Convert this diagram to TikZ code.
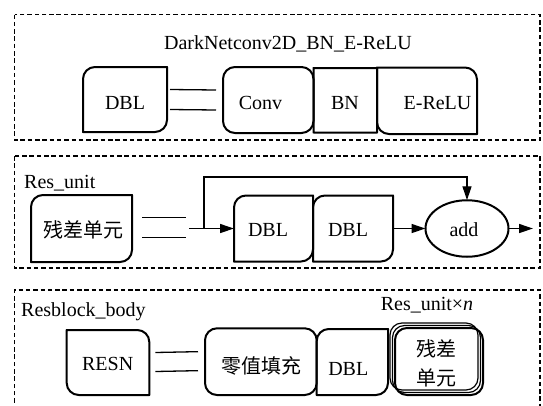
\documentclass[tikz,border=0pt]{standalone}
\usepackage{fontspec}
\setmainfont{Liberation Serif}
\newfontfamily\serifface{Liberation Serif}
\newfontfamily\cjk{Noto Sans CJK SC}
\usetikzlibrary{arrows.meta,shapes.geometric,calc}

% Outline of a named node with an individual radius per corner
% #1 options, #2 node, #3 top-left, #4 top-right, #5 bottom-right, #6 bottom-left
\newcommand\cornerbox[6][]{%
  \draw[outline,#1]
    ($(#2.north west)+(0,#3)$) arc[start angle=180,end angle=270,radius=#3]
    -- ($(#2.north east)+(-#4,0)$) arc[start angle=270,end angle=360,radius=#4]
    -- ($(#2.south east)+(0,-#5)$) arc[start angle=0,end angle=90,radius=#5]
    -- ($(#2.south west)+(#6,0)$) arc[start angle=90,end angle=180,radius=#6]
    -- cycle;}

\tikzset{
  box/.style 2 args={minimum width=#1, minimum height=#2, inner sep=0pt, outer sep=0pt},
  outline/.style={line width=2pt, line join=round},
  lbl/.style={inner sep=0pt, font=\serifface\fontsize{20}{24}\selectfont},
  cjklbl/.style={inner sep=0pt, font=\cjk\fontsize{20}{29}\selectfont, align=center},
  panel/.style={line width=1.9pt, dash pattern=on 4.5pt off 2.8pt},
  link/.style={line width=1.3pt},
  arrow/.style={link, -{Triangle[length=14pt,width=9pt]}},
}

\begin{document}
\begin{tikzpicture}[x=1pt,y=-1pt]
\useasboundingbox (0,0) rectangle (543,405);

% ---------------- DarkNetconv2D_BN_E-ReLU ----------------
\draw[panel] (14.5,14.5) rectangle (540,140);
\node[lbl, anchor=base] (titleA) at (288,49) {DarkNetconv2D\_BN\_E-ReLU};

\node[box={84}{65}]     (dblA)   at (125,99.5) {};
\node[box={90.5}{66}]   (convA)  at (268.25,100) {};
\node[box={63.5}{64.5}] (bnA)    at (345.25,100.25) {};
\node[box={100}{66.5}]  (ereluA) at (427,100.75) {};

\cornerbox{dblA}{12}{0.01}{12}{0.01}
\cornerbox{convA}{12}{12}{12}{12}
\cornerbox{bnA}{0.01}{0.01}{0.01}{0.01}
\cornerbox{ereluA}{0.01}{12}{0.01}{12}

\node[lbl, anchor=base] (dblAt)   at (125,109.5)   {DBL};
\node[lbl, anchor=base] (convAt)  at (260.5,109.5) {Conv};
\node[lbl, anchor=base] (bnAt)    at (345,109.5)   {BN};
\node[lbl, anchor=base] (ereluAt) at (437.5,109.5) {E-ReLU};

\draw[link] ([xshift=3pt,yshift=10pt]dblA.east)  -- ([xshift=-7pt,yshift=10pt]convA.west);
\draw[link] ([xshift=3pt,yshift=-10pt]dblA.east) -- ([xshift=-7pt,yshift=-10pt]convA.west);

% ---------------- Res_unit ----------------
\draw[panel] (14.5,156) rectangle (540,268);
\node[lbl, anchor=base west] (titleB) at (24,188) {Res\_unit};

\node[box={101}{67}] (resA) at (81.5,228.5) {};
\node[box={79}{66}]  (dbl1) at (273.5,228.5) {};
\node[box={80}{66}]  (dbl2) at (353,228.5) {};
\node[ellipse, draw, line width=2pt, minimum width=83pt, minimum height=56.5pt,
      inner sep=0pt, outer sep=0pt] (add) at (467,228.5) {};

\cornerbox{resA}{12}{0.01}{12}{0.01}
\cornerbox{dbl1}{12}{0.01}{12}{0.01}
\cornerbox{dbl2}{12}{0.01}{12}{0.01}

\node[cjklbl] (resAt) at (83,230) {残差单元};
\node[lbl, anchor=base] (dbl1t) at (268,236.5) {DBL};
\node[lbl, anchor=base] (dbl2t) at (348,236.5) {DBL};
\node[lbl, anchor=base] (addt)  at (464,236.5) {add};

\draw[link] ([xshift=10pt,yshift=11pt]resA.east)  -- ([xshift=54pt,yshift=11pt]resA.east);
\draw[link] ([xshift=10pt,yshift=-9pt]resA.east) -- ([xshift=54pt,yshift=-9pt]resA.east);

\coordinate (rsIn)    at (189,228.5);
\coordinate (branch)  at (204,228.5);
\coordinate (loopTop) at (467,177);
\coordinate (addOut)  at (533,228.5);

\draw[arrow] (rsIn) -- (dbl1.west);
\draw[arrow] (branch) -- (branch |- loopTop) -- (loopTop) -- (add.north);
\draw[arrow] (dbl2.east) -- (add.west);
\draw[arrow] (add.east) -- (addOut);

% ---------------- Resblock_body ----------------
\draw[panel] (14.5,410) -- (14.5,290) -- (540,290) -- (540,410);
\node[lbl, anchor=base west] (titleC) at (21,316) {Resblock\_body};
\node[lbl, anchor=base] (repeatt) at (427,310.5) {Res\_unit×\textit{n}};

\node[box={82.6}{65}]   (resn) at (108,362.5) {};
\node[box={111.7}{66.7}] (zero) at (260.85,361.65) {};
\node[box={71.3}{66}]   (dblB) at (352.35,362) {};
\node[box={88}{67}] (stackA) at (434,356.5) {};
\node[box={88}{67}] (stackB) at (436.5,359) {};
\node[box={88}{67}] (stackC) at (439,361.5) {};

\cornerbox{resn}{0.01}{12}{0.01}{12}
\cornerbox{zero}{12}{12}{12}{12}
\cornerbox{dblB}{12}{0.01}{12}{0.01}
\cornerbox[line width=1.2pt]{stackA}{12}{12}{12}{12}
\cornerbox[line width=1.2pt]{stackB}{12}{12}{12}{12}
\cornerbox{stackC}{12}{12}{12}{12}

\node[lbl, anchor=base] (resnt) at (107.7,370.5) {RESN};
\node[cjklbl] (zerot) at (261.7,366) {零值填充};
\node[lbl, anchor=base] (dblBt) at (348.3,375) {DBL};
\node[cjklbl] (stackt) at (436,363.5) {残差\\单元};

\draw[link] ([xshift=6pt,yshift=10pt]resn.east)  -- ([xshift=-7pt,yshift=10pt]zero.west);
\draw[link] ([xshift=6pt,yshift=-9pt]resn.east) -- ([xshift=-7pt,yshift=-9pt]zero.west);
\end{tikzpicture}
\end{document}
